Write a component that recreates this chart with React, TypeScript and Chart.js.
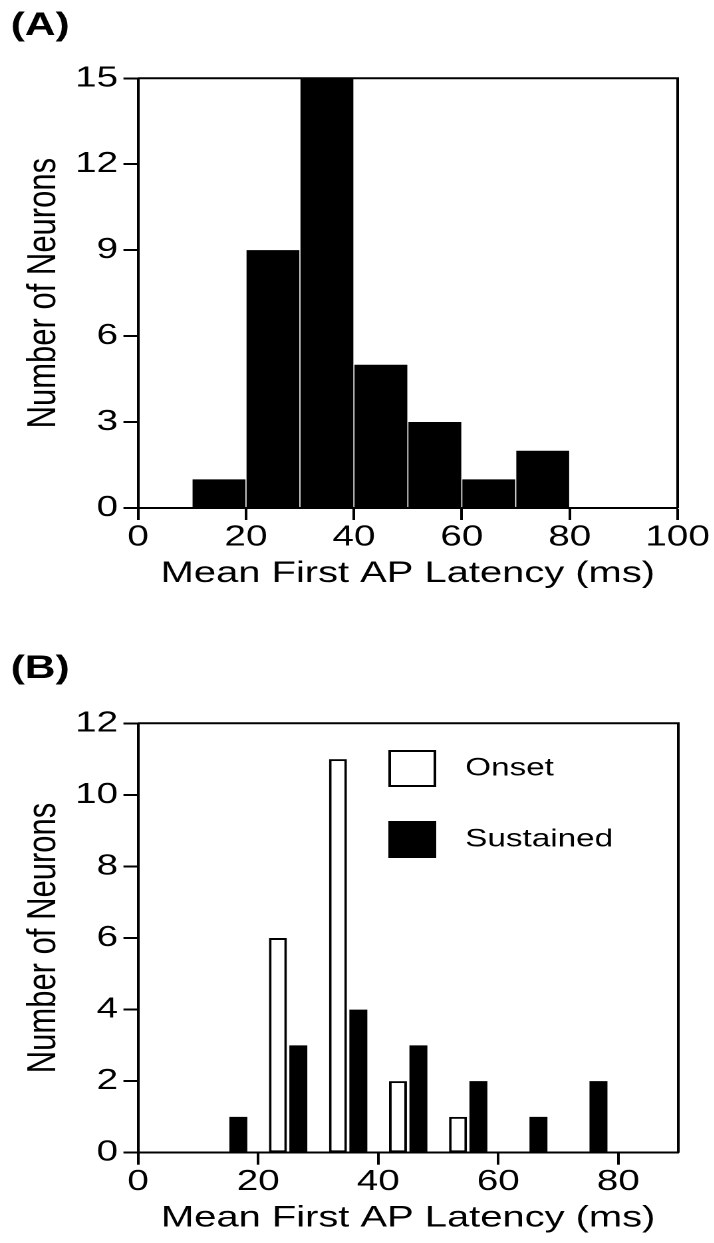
import React, { useEffect, useRef } from 'react';
import { Chart, registerables } from 'chart.js';

Chart.register(...registerables);

const FONT = "'Liberation Sans', Arial, Helvetica, sans-serif";
const STRETCH = 1.33;
const BASE_W = 537;

// ---------- Panel A ----------
const binCentersA = [5, 15, 25, 35, 45, 55, 65, 75, 85, 95];
const countsA = [0, 1, 9, 15, 5, 3, 1, 2, 0, 0];
const xTicksA = [0, 20, 40, 60, 80, 100];
const yTicksA = [0, 3, 6, 9, 12, 15];

// ---------- Panel B ----------
const binCentersB = [15, 25, 35, 45, 55, 65, 75];
const onsetCounts = [0, 6, 11, 2, 1, 0, 0];
const sustainedCounts = [1, 3, 4, 3, 2, 1, 2];
const xTicksB = [0, 20, 40, 60, 80];
const yTicksB = [0, 2, 4, 6, 8, 10, 12];
const seriesLabelsB = ['Onset', 'Sustained'];

const panelLabels = ['(A)', '(B)'];
const xTitle = 'Mean First AP Latency (ms)';
const yTitle = 'Number of Neurons';

const toPoints = (xs: number[], ys: number[]) =>
  xs.map((x, i) => ({ x, y: ys[i] === 0 ? null : ys[i] }));

const framePlugin = {
  id: 'frame',
  afterDatasetsDraw(chart: any) {
    const { ctx, chartArea } = chart;
    const { left, top, right, bottom } = chartArea;
    ctx.save();
    ctx.strokeStyle = '#000';
    ctx.lineWidth = 2;
    ctx.beginPath();
    ctx.moveTo(left, top);
    ctx.lineTo(right, top);
    ctx.lineTo(right, bottom);
    ctx.stroke();
    ctx.restore();
  },
};

const insideLegendPlugin = {
  id: 'insideLegend',
  afterDatasetsDraw(chart: any) {
    const { ctx, chartArea } = chart;
    const boxX = chartArea.left + 188.2;
    const boxW = 36;
    const boxH = 37;
    const rowTops = [26.7, 97.7];
    const textX = chartArea.left + 246;
    chart.data.datasets.forEach((ds: any, i: number) => {
      const y = chartArea.top + rowTops[i];
      ctx.save();
      ctx.fillStyle = ds.backgroundColor;
      ctx.fillRect(boxX, y, boxW, boxH);
      if (ds.borderWidth) {
        ctx.lineWidth = 2;
        ctx.strokeStyle = ds.borderColor;
        ctx.strokeRect(boxX + 1, y + 1, boxW - 2, boxH - 2);
      }
      ctx.fillStyle = '#000';
      ctx.font = `25px ${FONT}`;
      ctx.textBaseline = 'middle';
      ctx.textAlign = 'left';
      ctx.fillText(ds.label, textX, y + boxH / 2);
      ctx.restore();
    });
  },
};

function buildOptions(p: {
  label: string;
  xMax: number;
  yMax: number;
  xTicks: number[];
  yTicks: number[];
  titlePad: { top: number; bottom: number };
  xAxisHeight: number;
  xTitlePadBottom: number;
  padRight: number;
}): any {
  return {
    animation: false,
    responsive: true,
    maintainAspectRatio: false,
    devicePixelRatio: 2,
    events: [],
    layout: { padding: { left: 8, right: p.padRight, top: 0, bottom: 0 } },
    plugins: {
      legend: { display: false },
      tooltip: { enabled: false },
      title: {
        display: true,
        text: p.label,
        align: 'start',
        color: '#000',
        font: { family: FONT, size: 32, weight: 'bold' },
        padding: p.titlePad,
      },
    },
    scales: {
      x: {
        type: 'linear',
        min: 0,
        max: p.xMax,
        offset: false,
        afterBuildTicks: (s: any) => {
          s.ticks = p.xTicks.map((v) => ({ value: v }));
        },
        afterFit: (s: any) => {
          s.height = p.xAxisHeight;
        },
        grid: {
          offset: false,
          drawOnChartArea: false,
          drawTicks: true,
          tickLength: 12,
          tickWidth: 2,
          tickColor: '#000',
          color: '#000',
        },
        border: { display: true, color: '#000', width: 2 },
        ticks: {
          padding: 0,
          color: '#000',
          maxRotation: 0,
          autoSkip: false,
          font: { family: FONT, size: 29 },
        },
        title: {
          display: true,
          text: xTitle,
          color: '#000',
          font: { family: FONT, size: 30 },
          padding: { top: 0, bottom: p.xTitlePadBottom },
        },
      },
      y: {
        type: 'linear',
        min: 0,
        max: p.yMax,
        afterBuildTicks: (s: any) => {
          s.ticks = p.yTicks.map((v) => ({ value: v }));
        },
        afterFit: (s: any) => {
          s.width = 95.8;
        },
        grid: {
          drawOnChartArea: false,
          drawTicks: true,
          tickLength: 11,
          tickWidth: 2,
          tickColor: '#000',
          color: '#000',
        },
        border: { display: true, color: '#000', width: 2 },
        ticks: {
          padding: 4,
          color: '#000',
          font: { family: FONT, size: 29 },
        },
        title: {
          display: true,
          text: yTitle,
          color: '#000',
          font: { family: FONT, size: 31 },
          padding: { top: 6.3, bottom: 0 },
        },
      },
    },
  };
}

export default function App() {
  const refA = useRef<HTMLCanvasElement>(null);
  const refB = useRef<HTMLCanvasElement>(null);

  useEffect(() => {
    const chartA = new Chart(refA.current as HTMLCanvasElement, {
      type: 'bar',
      data: {
        datasets: [
          {
            label: 'Neurons',
            data: toPoints(binCentersA, countsA) as any,
            backgroundColor: '#000',
            borderWidth: 0,
            barPercentage: 0.98,
            categoryPercentage: 1,
          },
        ],
      },
      options: buildOptions({
        label: panelLabels[0],
        xMax: 100,
        yMax: 15,
        xTicks: xTicksA,
        yTicks: yTicksA,
        titlePad: { top: 6.8, bottom: 33.1 },
        xAxisHeight: 92,
        xTitlePadBottom: 8.4,
        padRight: 27.5,
      }),
      plugins: [framePlugin],
    });

    const chartB = new Chart(refB.current as HTMLCanvasElement, {
      type: 'bar',
      data: {
        datasets: [
          {
            label: seriesLabelsB[0],
            data: toPoints(binCentersB, onsetCounts) as any,
            backgroundColor: '#fff',
            borderColor: '#000',
            borderWidth: 2,
            borderSkipped: false,
            barPercentage: 0.88,
            categoryPercentage: 0.68,
          },
          {
            label: seriesLabelsB[1],
            data: toPoints(binCentersB, sustainedCounts) as any,
            backgroundColor: '#000',
            borderColor: '#000',
            borderWidth: 0,
            barPercentage: 0.88,
            categoryPercentage: 0.68,
          },
        ],
      },
      options: buildOptions({
        label: panelLabels[1],
        xMax: 90,
        yMax: 12,
        xTicks: xTicksB,
        yTicks: yTicksB,
        titlePad: { top: 49.8, bottom: 35.1 },
        xAxisHeight: 90.3,
        xTitlePadBottom: 6.7,
        padRight: 27,
      }),
      plugins: [framePlugin, insideLegendPlugin],
    });

    return () => {
      chartA.destroy();
      chartB.destroy();
    };
  }, []);

  const panelStyle = (top: number, height: number): React.CSSProperties => ({
    position: 'absolute',
    left: 0,
    top,
    width: BASE_W,
    height,
    transform: `scaleX(${STRETCH})`,
    transformOrigin: '0 0',
  });

  return (
    <div
      style={{
        position: 'fixed',
        left: 0,
        top: 0,
        width: 714,
        height: 1243,
        overflow: 'hidden',
        background: '#fff',
      }}
    >
      <div style={panelStyle(0, 600)}>
        <canvas ref={refA} />
      </div>
      <div style={panelStyle(600, 643)}>
        <canvas ref={refB} />
      </div>
    </div>
  );
}
